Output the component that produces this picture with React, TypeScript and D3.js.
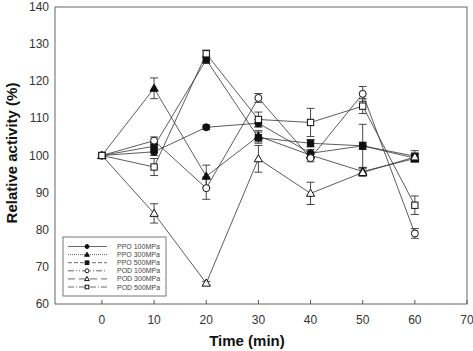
import React from 'react';
import * as d3 from 'd3';

// Time points (min)
const times = [0, 10, 20, 30, 40, 50, 60];

// Relative activity (%) per treatment
const ppo100 = [100, 101, 107.6, 108.7, 100.6, 102.6, 99.3];
const ppo300 = [100, 118.1, 94.4, 105.2, 100.1, 95.7, 99.2];
const ppo500 = [100, 102.5, 125.8, 104.8, 103.3, 102.6, 99.8];
const pod100 = [100, 104, 91.2, 115.5, 99.3, 116.6, 79];
const pod300 = [100, 84.4, 65.6, 99.1, 89.8, 95.4, 99.6];
const pod500 = [100, 96.9, 127.4, 109.7, 108.9, 113.3, 86.6];

// Error bars (+/-)
const ppo100Err = [0, 1, 0.6, 1, 1, 1, 1];
const ppo300Err = [0, 2.8, 3, 1.5, 1, 1, 1];
const ppo500Err = [0, 1, 1, 1.5, 1, 5.8, 1.5];
const pod100Err = [0, 1, 3, 1.2, 1, 2, 1.3];
const pod300Err = [0, 2.6, 0.5, 3.6, 3, 1, 1];
const pod500Err = [0, 2.3, 1, 2, 3.8, 2, 2.5];

const seriesNames = ['PPO 100MPa', 'PPO 300MPa', 'PPO 500MPa', 'POD 100MPa', 'POD 300MPa', 'POD 500MPa'];
const xTicks = [0, 10, 20, 30, 40, 50, 60, 70];
const yTicks = [60, 70, 80, 90, 100, 110, 120, 130, 140];

const series = [
  { name: seriesNames[0], values: ppo100, err: ppo100Err, shape: 'circle', filled: true, dash: '' },
  { name: seriesNames[1], values: ppo300, err: ppo300Err, shape: 'triangle', filled: true, dash: '1,1' },
  { name: seriesNames[2], values: ppo500, err: ppo500Err, shape: 'square', filled: true, dash: '4,2' },
  { name: seriesNames[3], values: pod100, err: pod100Err, shape: 'circle', filled: false, dash: '6,2,1,2,1,2' },
  { name: seriesNames[4], values: pod300, err: pod300Err, shape: 'triangle', filled: false, dash: '7,4' },
  { name: seriesNames[5], values: pod500, err: pod500Err, shape: 'square', filled: false, dash: '6,2,1,2' },
];

const font = '"Liberation Sans", Arial, sans-serif';

const Marker = ({ shape, filled, x, y, size }: any) => {
  const fill = filled ? '#111' : '#fff';
  const stroke = '#111';
  if (shape === 'circle') {
    return <circle cx={x} cy={y} r={size / 2} fill={fill} stroke={stroke} strokeWidth={1} />;
  }
  if (shape === 'square') {
    const s = size * 0.9;
    return <rect x={x - s / 2} y={y - s / 2} width={s} height={s} fill={fill} stroke={stroke} strokeWidth={1} />;
  }
  const sym = d3.symbol().type(d3.symbolTriangle).size(size * size * 0.6)();
  return <path d={sym || ''} transform={`translate(${x},${y + size * 0.08})`} fill={fill} stroke={stroke} strokeWidth={1} />;
};

export default function App() {
  const width = 473;
  const height = 351;
  const left = 55, right = 467, top = 7, bottom = 304;

  const x = d3.scaleLinear().domain([-9, 70]).range([left, right]);
  const y = d3.scaleLinear().domain([60, 140]).range([bottom, top]);

  const line = d3.line<number>()
    .x((_, i) => x(times[i]))
    .y(d => y(d));

  const legX = 63, legY = 237, legW = 103, legH = 59;

  return (
    <div style={{ position: 'absolute', left: 0, top: 0 }}>
      <svg width={width} height={height} style={{ display: 'block', background: '#fff' }}>
        {/* frame */}
        <rect x={left} y={top} width={right - left} height={bottom - top} fill="none" stroke="#666" strokeWidth={1} />

        {/* x ticks */}
        {xTicks.map(t => (
          <g key={'xt' + t}>
            <line x1={x(t)} x2={x(t)} y1={bottom} y2={bottom - 4} stroke="#555" />
            <text x={x(t)} y={bottom + 20} textAnchor="middle" fontSize={12} fill="#333" fontFamily={font}>{t}</text>
          </g>
        ))}

        {/* y ticks */}
        {yTicks.map(t => (
          <text key={'yt' + t} x={left - 6} y={y(t) + 4} textAnchor="end" fontSize={12} fill="#333" fontFamily={font}>{t}</text>
        ))}

        {/* lines */}
        {series.map(s => (
          <path key={'l' + s.name} d={line(s.values) || ''} fill="none" stroke="#333" strokeWidth={0.8} />
        ))}

        {/* error bars */}
        {series.map(s => s.values.map((v, i) => s.err[i] > 0 ? (
          <g key={'e' + s.name + i} stroke="#333" strokeWidth={0.9}>
            <line x1={x(times[i])} x2={x(times[i])} y1={y(v + s.err[i])} y2={y(v - s.err[i])} />
            <line x1={x(times[i]) - 4} x2={x(times[i]) + 4} y1={y(v + s.err[i])} y2={y(v + s.err[i])} />
            <line x1={x(times[i]) - 4} x2={x(times[i]) + 4} y1={y(v - s.err[i])} y2={y(v - s.err[i])} />
          </g>
        ) : null))}

        {/* markers */}
        {series.map(s => s.values.map((v, i) => (
          <Marker key={'m' + s.name + i} shape={s.shape} filled={s.filled} x={x(times[i])} y={y(v)} size={7} />
        )))}

        {/* legend */}
        <rect x={legX} y={legY} width={legW} height={legH} fill="#fff" stroke="#777" strokeWidth={1} />
        {series.map((s, i) => {
          const ry = legY + 9.5 + i * 8.1;
          return (
            <g key={'lg' + s.name}>
              <line x1={legX + 5} x2={legX + 44} y1={ry} y2={ry} stroke="#444" strokeWidth={0.8} strokeDasharray={s.dash} />
              <Marker shape={s.shape} filled={s.filled} x={legX + 24} y={ry} size={4} />
              <text x={legX + 54} y={ry + 2.5} fontSize={7} fill="#444" fontFamily={font}>{s.name}</text>
            </g>
          );
        })}

        {/* axis titles */}
        <text x={247} y={346} textAnchor="middle" fontSize={15} fontWeight="bold" fill="#111" fontFamily={font}>Time (min)</text>
        <text transform={`translate(17,153) rotate(-90)`} textAnchor="middle" fontSize={15} fontWeight="bold" fill="#111" fontFamily={font}>Relative activity (%)</text>
      </svg>
    </div>
  );
}
